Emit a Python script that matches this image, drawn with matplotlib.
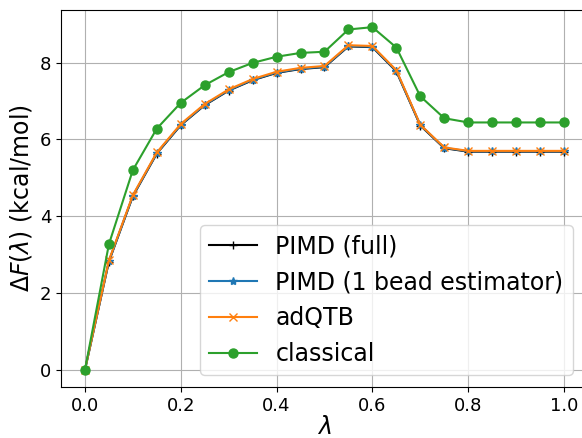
import matplotlib
matplotlib.use("Agg")
import matplotlib.pyplot as plt
import numpy as np

lam = np.arange(0, 1.0001, 0.05)

# free energy profiles (kcal/mol)
pimd_full = [0.0, 2.82, 4.52, 5.63, 6.37, 6.89, 7.27, 7.54, 7.73, 7.83, 7.88, 8.42, 8.40, 7.77,
             6.36, 5.77, 5.68, 5.68, 5.68, 5.68, 5.68]
pimd_1bead = [0.0, 2.83, 4.53, 5.64, 6.38, 6.90, 7.28, 7.55, 7.74, 7.84, 7.89, 8.43, 8.41, 7.78,
              6.37, 5.78, 5.69, 5.69, 5.69, 5.69, 5.69]
adqtb = [0.0, 2.85, 4.55, 5.66, 6.40, 6.92, 7.30, 7.57, 7.76, 7.86, 7.91, 8.45, 8.43, 7.80,
         6.38, 5.79, 5.70, 5.70, 5.70, 5.70, 5.70]
classical = [0.0, 3.27, 5.20, 6.28, 6.95, 7.41, 7.75, 7.99, 8.15, 8.25, 8.28, 8.86, 8.92, 8.39,
             7.12, 6.55, 6.44, 6.44, 6.44, 6.44, 6.44]

fig = plt.figure(figsize=(5.82, 4.38), dpi=100)
ax = fig.add_axes([0.1048, 0.1164, 0.9055, 0.8607])

ax.plot(lam, pimd_full, color='black', marker='+', label='PIMD (full)')
ax.plot(lam, pimd_1bead, color='tab:blue', marker='*', label='PIMD (1 bead estimator)')
ax.plot(lam, adqtb, color='tab:orange', marker='x', label='adQTB')
ax.plot(lam, classical, color='tab:green', marker='o', markersize=6.5, label='classical')

ax.set_xlabel(r'$\lambda$', fontsize=17, labelpad=0)
ax.set_ylabel(r'$\Delta F(\lambda)$ (kcal/mol)', fontsize=17)
ax.tick_params(labelsize=13)
ax.grid(True)
ax.legend(loc='lower right', bbox_to_anchor=(0.994, 0.0), fontsize=17)

fig.savefig('out.png', dpi=100)
